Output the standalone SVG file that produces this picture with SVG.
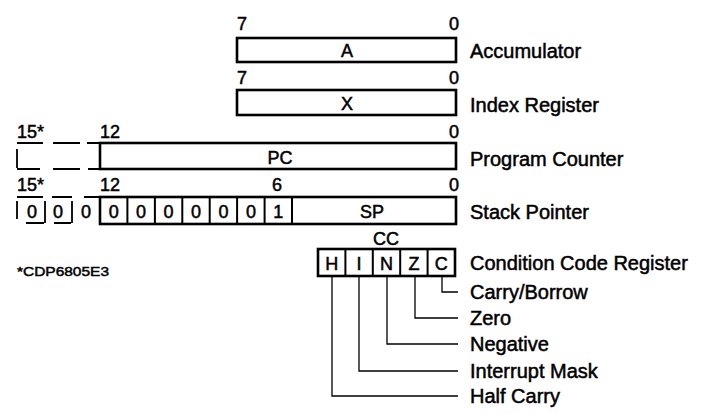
<svg xmlns="http://www.w3.org/2000/svg" width="701" height="414" viewBox="0 0 701 414">
<style>
  .t{font-family:"Liberation Sans",Arial,sans-serif;fill:#000;stroke:#000;stroke-width:0.5}
  .lbl{font-size:20px}
  .bit{font-size:18px}
  .in{font-size:18px;text-anchor:middle}
  .box{fill:#fff;stroke:#000;stroke-width:2.6}
  .cell{stroke:#000;stroke-width:2}
  .dash{stroke:#000;stroke-width:1.8;fill:none}
  .lead{stroke:#000;stroke-width:1.3;fill:none}
  .end{text-anchor:end}
  .mid{text-anchor:middle}
</style>
<rect width="701" height="414" fill="#fff"/>

<g id="accumulator">
  <text class="t bit" x="237" y="30">7</text>
  <text class="t bit end" x="459" y="30">0</text>
  <rect class="box" x="237" y="38" width="219" height="24"/>
  <text class="t in" x="347" y="57">A</text>
  <text class="t lbl" x="470" y="58">Accumulator</text>
</g>

<g id="index-register">
  <text class="t bit" x="237" y="84">7</text>
  <text class="t bit end" x="459" y="84">0</text>
  <rect class="box" x="237" y="90" width="219" height="25"/>
  <text class="t in" x="347" y="110">X</text>
  <text class="t lbl" x="470" y="112">Index Register</text>
</g>

<g id="program-counter">
  <text class="t bit" x="17" y="138">15*</text>
  <text class="t bit" x="100" y="138">12</text>
  <text class="t bit end" x="459" y="138">0</text>
  <path class="dash" d="M17 143H43M53 143H80M87 143H99M17 169H40M53 169H80M88 169H99M17 149V168"/>
  <rect class="box" x="100" y="143" width="356" height="26"/>
  <text class="t in" x="280" y="164">PC</text>
  <text class="t lbl" x="470" y="166">Program Counter</text>
</g>

<g id="stack-pointer">
  <text class="t bit" x="17" y="191">15*</text>
  <text class="t bit" x="100" y="191">12</text>
  <text class="t bit mid" x="277" y="191">6</text>
  <text class="t bit end" x="459" y="191">0</text>
  <path class="dash" d="M17 197H43M52 197H72M84 197H99M26 223H44M54 223H71M17 201V219M45 201V223M72 201V223"/>
  <text class="t in" x="32" y="218">0</text>
  <text class="t in" x="58" y="218">0</text>
  <text class="t in" x="86" y="218">0</text>
  <rect class="box" x="100" y="197" width="356" height="27"/>
  <path class="cell" d="M127.4 197V224M154.9 197V224M182.3 197V224M209.7 197V224M237.1 197V224M264.6 197V224M292 197V224"/>
  <text class="t in" x="113.7" y="218">0</text>
  <text class="t in" x="141.1" y="218">0</text>
  <text class="t in" x="168.6" y="218">0</text>
  <text class="t in" x="196" y="218">0</text>
  <text class="t in" x="223.4" y="218">0</text>
  <text class="t in" x="250.9" y="218">0</text>
  <text class="t in" x="278.3" y="218">1</text>
  <text class="t in" x="372" y="218">SP</text>
  <text class="t lbl" x="470" y="219">Stack Pointer</text>
</g>

<g id="condition-code-register">
  <text class="t in" x="386" y="245">CC</text>
  <rect class="box" x="318" y="249" width="137" height="27"/>
  <path class="cell" d="M345.4 249V276M372.8 249V276M400.2 249V276M427.6 249V276"/>
  <text class="t in" x="331.7" y="270">H</text>
  <text class="t in" x="359.1" y="270">I</text>
  <text class="t in" x="386.5" y="270">N</text>
  <text class="t in" x="413.9" y="270">Z</text>
  <text class="t in" x="441.3" y="270">C</text>
  <text class="t lbl" x="470" y="270">Condition Code Register</text>
</g>

<g id="connectors">
  <path class="lead" d="M442 276V292H458"/>
  <path class="lead" d="M415 276V318H458"/>
  <path class="lead" d="M387 276V344H458"/>
  <path class="lead" d="M359 276V371H458"/>
  <path class="lead" d="M332 276V396H458"/>
</g>

<g id="flag-labels">
  <text class="t lbl" x="470" y="299">Carry/Borrow</text>
  <text class="t lbl" x="470" y="325">Zero</text>
  <text class="t lbl" x="470" y="351">Negative</text>
  <text class="t lbl" x="470" y="378">Interrupt Mask</text>
  <text class="t lbl" x="470" y="403">Half Carry</text>
</g>

<g id="footnote">
  <text class="t" x="17" y="276" font-size="13.5" textLength="92" lengthAdjust="spacingAndGlyphs">*CDP6805E3</text>
</g>
</svg>
